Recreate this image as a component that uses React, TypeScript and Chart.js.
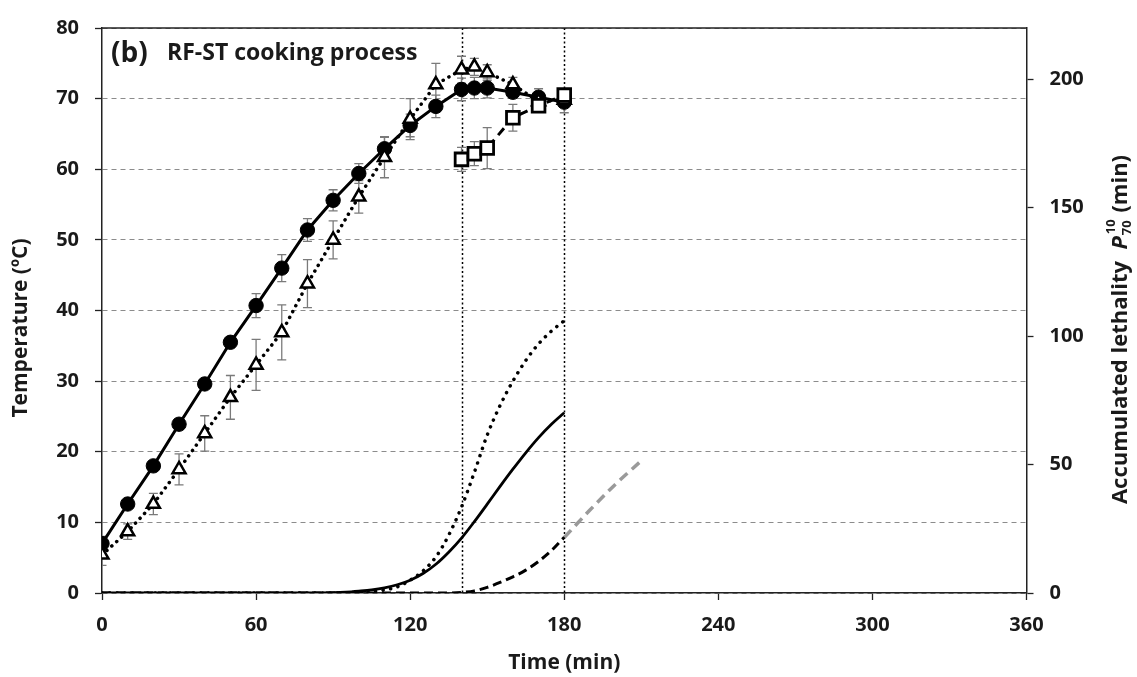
import React, { useEffect, useRef } from "react";
import { Chart, registerables } from "chart.js";

Chart.register(...registerables);

// ---- data ----
const timeTemp = [0, 10, 20, 30, 40, 50, 60, 70, 80, 90, 100, 110, 120, 130, 140, 145, 150, 160, 170, 180];
const tempCircle = [7.0, 12.6, 18.0, 23.9, 29.6, 35.5, 40.7, 46.0, 51.4, 55.6, 59.4, 62.9, 66.2, 68.9, 71.3, 71.5, 71.5, 70.9, 70.2, 69.5];
const errCircle = [1.0, 0.6, 0.7, 0.5, 0.6, 0.8, 1.7, 1.9, 1.6, 1.5, 1.4, 1.6, 1.6, 1.6, 1.6, 1.5, 1.4, 0.8, 1.2, 1.5];
const tempTriangle = [5.4, 8.7, 12.6, 17.5, 22.6, 27.7, 32.3, 36.9, 43.8, 50.0, 56.1, 61.7, 67.1, 72.0, 74.1, 74.5, 73.7, 72.0, 69.6, 69.8];
const errTriangle = [1.5, 1.1, 1.5, 2.2, 2.5, 3.1, 3.6, 3.9, 3.4, 2.7, 2.3, 2.9, 2.9, 3.0, 1.9, 1.2, 1.1, 1.0, 1.2, 0.8];
const timeSquare = [140, 145, 150, 160, 170, 180];
const tempSquare = [61.4, 62.2, 63.0, 67.3, 69.0, 70.5];
const errSquare = [1.7, 1.7, 2.9, 1.9, 0.8, 0.6];

const timeLeth = [0, 80, 90, 95, 100, 105, 110, 115, 120, 125, 130, 135, 140, 145, 150, 155, 160, 165, 170, 175, 180];
const lethSolid = [0, 0, 0.1, 0.3, 0.7, 1.2, 2.0, 3.2, 5.0, 7.6, 11.2, 15.9, 21.4, 27.8, 34.6, 41.5, 48.2, 54.6, 60.5, 65.7, 70.2];
const lethDotted = [0, 0, 0, 0.1, 0.3, 0.6, 1.2, 2.4, 5.0, 8.6, 14.0, 22.5, 33.5, 47.0, 61.5, 73.0, 82.5, 90.5, 97.0, 102.0, 106.0];
const timeLethDashed = [0, 130, 135, 140, 145, 150, 155, 160, 165, 170, 175, 180];
const lethDashed = [0, 0, 0, 0.2, 0.8, 2.2, 4.1, 6.3, 8.9, 12.3, 16.5, 21.7];
const timeLethGray = [180, 190, 200, 210];
const lethGray = [21.6, 32.3, 42.4, 51.5];

const processMarks = [140, 180];
const rightTicks = [0, 50, 100, 150, 200];

const FONT = "'Open Sans', 'DejaVu Sans', sans-serif";
const TEXT = "#1a1a1a";

const pts = (xs: number[], ys: number[]) => xs.map((x, i) => ({ x, y: ys[i] }));

const decorPlugin = {
  id: "decor",
  beforeDatasetsDraw(chart: any) {
    const { ctx, chartArea, scales } = chart;
    const xs = scales.x;
    ctx.save();
    // vertical dotted process lines
    ctx.strokeStyle = "#000";
    ctx.lineWidth = 1.5;
    ctx.setLineDash([2, 2.5]);
    processMarks.forEach((t) => {
      const px = Math.round(xs.getPixelForValue(t)) + 0.5;
      ctx.beginPath();
      ctx.moveTo(px, chartArea.top);
      ctx.lineTo(px, chartArea.bottom);
      ctx.stroke();
    });
    ctx.setLineDash([]);
    // error bars
    ctx.beginPath();
    ctx.rect(chartArea.left, chartArea.top, chartArea.right - chartArea.left, chartArea.bottom - chartArea.top);
    ctx.clip();
    ctx.strokeStyle = "#7a7a7a";
    ctx.lineWidth = 1.3;
    chart.data.datasets.forEach((ds: any) => {
      if (!ds.errorBars) return;
      const ys = scales[ds.yAxisID];
      ds.data.forEach((p: any, i: number) => {
        const e = ds.errorBars[i];
        const px = xs.getPixelForValue(p.x);
        const y1 = ys.getPixelForValue(p.y + e);
        const y2 = ys.getPixelForValue(p.y - e);
        ctx.beginPath();
        ctx.moveTo(px, y1);
        ctx.lineTo(px, y2);
        ctx.moveTo(px - 4.5, y1);
        ctx.lineTo(px + 4.5, y1);
        ctx.moveTo(px - 4.5, y2);
        ctx.lineTo(px + 4.5, y2);
        ctx.stroke();
      });
    });
    ctx.restore();
  },
  afterDraw(chart: any) {
    const { ctx, chartArea } = chart;
    ctx.save();
    // top frame
    ctx.strokeStyle = "#222";
    ctx.lineWidth = 1.5;
    ctx.beginPath();
    ctx.moveTo(chartArea.left, chartArea.top);
    ctx.lineTo(chartArea.right, chartArea.top);
    ctx.stroke();
    // panel label
    ctx.fillStyle = TEXT;
    ctx.textBaseline = "alphabetic";
    ctx.textAlign = "left";
    ctx.font = `bold 28px ${FONT}`;
    ctx.fillText("(b)", chartArea.left + 9, chartArea.top + 34);
    ctx.font = `bold 23px ${FONT}`;
    ctx.fillText("RF-ST cooking process", chartArea.left + 65, chartArea.top + 32);
    ctx.restore();

    // left axis title
    ctx.save();
    ctx.fillStyle = TEXT;
    ctx.font = `bold 21px ${FONT}`;
    ctx.textAlign = "center";
    ctx.textBaseline = "middle";
    ctx.translate(21, 328);
    ctx.rotate(-Math.PI / 2);
    ctx.fillText("Temperature (ºC)", 0, 0);
    ctx.restore();

    // right axis title with italic P, subscript 70, superscript 10
    ctx.save();
    ctx.fillStyle = TEXT;
    const main = "Accumulated lethality  ";
    const tail = " (min)";
    const big = `bold 22px ${FONT}`;
    const bigI = `italic bold 22px ${FONT}`;
    const small = `bold 13px ${FONT}`;
    ctx.font = big;
    const wMain = ctx.measureText(main).width;
    const wTail = ctx.measureText(tail).width;
    ctx.font = bigI;
    const wP = ctx.measureText("P").width;
    ctx.font = small;
    const wSub = ctx.measureText("70").width;
    const wSup = ctx.measureText("10").width;
    const wScript = Math.max(wSub, wSup) + 2;
    const total = wMain + wP + wScript + wTail;
    ctx.translate(1121, 330);
    ctx.rotate(-Math.PI / 2);
    ctx.textBaseline = "middle";
    ctx.textAlign = "left";
    let x = -total / 2;
    ctx.font = big;
    ctx.fillText(main, x, 0);
    x += wMain;
    ctx.font = bigI;
    ctx.fillText("P", x, 0);
    x += wP + 1;
    ctx.font = small;
    ctx.fillText("70", x, 6);
    ctx.fillText("10", x + 1, -10);
    x += wScript;
    ctx.font = big;
    ctx.fillText(tail, x, 0);
    ctx.restore();
  },
};

export default function App() {
  const ref = useRef<HTMLCanvasElement>(null);
  useEffect(() => {
    const canvas = ref.current!;
    const chart = new Chart(canvas, {
      type: "line",
      data: {
        datasets: [
          {
            label: "Square",
            data: pts(timeSquare, tempSquare),
            yAxisID: "y",
            borderColor: "#000",
            borderWidth: 3,
            borderDash: [9, 6],
            pointStyle: "rect",
            pointRadius: 9,
            pointBorderWidth: 2.8,
            pointBackgroundColor: "#fff",
            pointBorderColor: "#000",
            tension: 0,
            order: 0,
            errorBars: errSquare,
          } as any,
          {
            label: "Triangle",
            data: pts(timeTemp, tempTriangle),
            yAxisID: "y",
            borderColor: "#000",
            borderWidth: 3.5,
            borderDash: [0.1, 6.5],
            borderCapStyle: "round",
            pointStyle: "triangle",
            pointRadius: 7.5,
            pointBorderWidth: 2.5,
            pointBackgroundColor: "#fff",
            pointBorderColor: "#000",
            tension: 0,
            order: 1,
            errorBars: errTriangle,
          } as any,
          {
            label: "Circle",
            data: pts(timeTemp, tempCircle),
            yAxisID: "y",
            borderColor: "#000",
            borderWidth: 3,
            pointStyle: "circle",
            pointRadius: 7.2,
            pointBorderWidth: 1,
            pointBackgroundColor: "#000",
            pointBorderColor: "#000",
            tension: 0,
            order: 2,
            errorBars: errCircle,
          } as any,
          {
            label: "Lethality solid",
            data: pts(timeLeth, lethSolid),
            yAxisID: "y2",
            borderColor: "#000",
            borderWidth: 2.8,
            pointRadius: 0,
            cubicInterpolationMode: "monotone",
            order: 3,
          } as any,
          {
            label: "Lethality dotted",
            data: pts(timeLeth, lethDotted),
            yAxisID: "y2",
            borderColor: "#000",
            borderWidth: 3.5,
            borderDash: [0.1, 7.5],
            borderCapStyle: "round",
            pointRadius: 0,
            cubicInterpolationMode: "monotone",
            order: 4,
          } as any,
          {
            label: "Lethality dashed",
            data: pts(timeLethDashed, lethDashed),
            yAxisID: "y2",
            borderColor: "#000",
            borderWidth: 3,
            borderDash: [9, 5],
            pointRadius: 0,
            cubicInterpolationMode: "monotone",
            order: 5,
          } as any,
          {
            label: "Lethality extrapolated",
            data: pts(timeLethGray, lethGray),
            yAxisID: "y2",
            borderColor: "#9a9a9a",
            borderWidth: 3.5,
            borderDash: [10, 6],
            pointRadius: 0,
            cubicInterpolationMode: "monotone",
            order: 6,
          } as any,
        ],
      },
      options: {
        animation: false,
        responsive: false,
        layout: { padding: { top: 20, left: 0, right: 0, bottom: 0 } },
        plugins: { legend: { display: false }, tooltip: { enabled: false } },
        scales: {
          x: {
            type: "linear",
            min: 0,
            max: 360,
            afterFit: (s: any) => { s.height = 84; },
            ticks: { stepSize: 60, maxRotation: 0, padding: 13, color: TEXT, font: { family: FONT, size: 20, weight: "bold" } },
            grid: { drawOnChartArea: false, drawTicks: true, tickLength: 7, tickColor: "#222", tickWidth: 1.3 },
            border: { color: "#222", width: 1.5 },
            title: { display: true, text: "Time (min)", color: TEXT, font: { family: FONT, size: 21, weight: "bold" }, padding: { top: 0, bottom: 1 } },
          },
          y: {
            type: "linear",
            position: "left",
            min: 0,
            max: 80,
            afterFit: (s: any) => { s.width = 102; },
            ticks: { stepSize: 10, padding: 16, color: TEXT, font: { family: FONT, size: 20, weight: "bold" } },
            grid: { drawOnChartArea: true, drawTicks: true, tickLength: 7, color: "#8c8c8c", lineWidth: 1, tickColor: "#222", tickWidth: 1.3, tickBorderDash: [] },
            border: { color: "#222", width: 1.5, dash: [5, 4] },
            title: { display: false },
          },
          y2: {
            type: "linear",
            position: "right",
            min: 0,
            max: 220,
            afterFit: (s: any) => { s.width = 110.5; },
            afterBuildTicks: (s: any) => { s.ticks = rightTicks.map((v) => ({ value: v })); },
            ticks: { padding: 16, color: TEXT, font: { family: FONT, size: 20, weight: "bold" } },
            grid: { drawOnChartArea: false, drawTicks: true, tickLength: 7, tickColor: "#222", tickWidth: 1.3 },
            border: { color: "#222", width: 1.5 },
          },
        },
      } as any,
      plugins: [decorPlugin],
    });
    return () => chart.destroy();
  }, []);
  return (
    <canvas
      ref={ref}
      width={1137}
      height={677}
      style={{ position: "absolute", left: 0, top: 0, width: 1137, height: 677, display: "block" }}
    />
  );
}
